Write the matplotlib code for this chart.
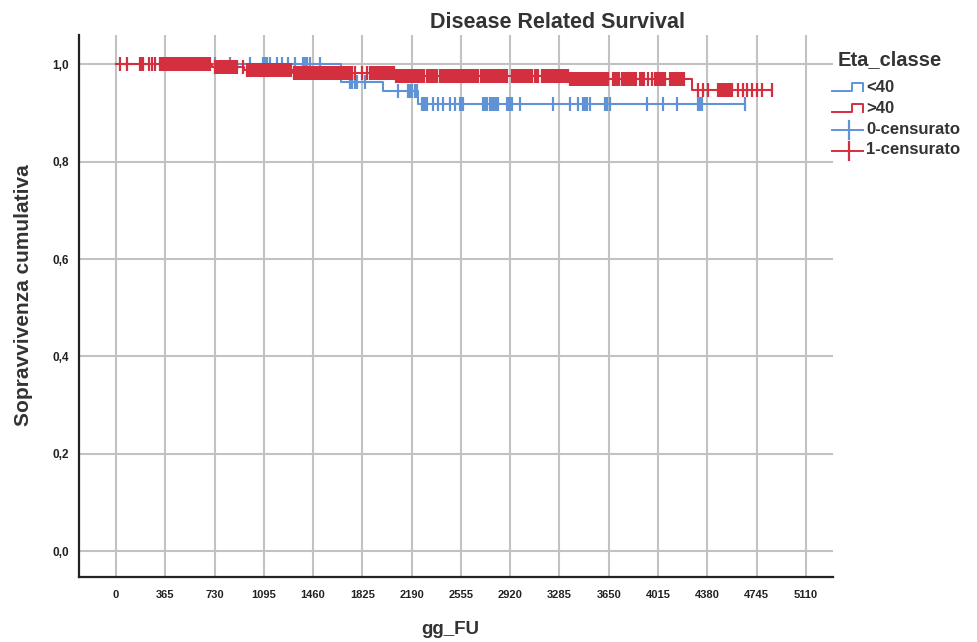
import numpy as np
import matplotlib.pyplot as plt
from matplotlib.lines import Line2D

# ---- data (days, cumulative survival) ----
blue_event_days = [1665, 1977, 2238]
blue_levels = [1.0, 0.964, 0.944, 0.918]
blue_end = 4658
blue_censored = [644, 674, 733, 844, 992, 1089, 1105, 1122, 1140, 1192, 1229, 1274,
                 1326, 1385, 1400, 1415, 1437, 1511,
                 1733, 1750, 1768, 1785, 1844,
                 2088, 2163, 2178, 2192, 2215, 2230,
                 2266, 2280, 2292, 2303, 2348, 2385, 2422, 2474, 2511, 2548, 2560, 2570,
                 2718, 2733, 2748, 2770, 2785, 2800, 2815, 2829, 2896, 2910, 2922, 2933,
                 2992, 3236, 3362, 3421, 3459, 3475, 3492, 3510, 3621, 3640, 3658,
                 3932, 4051, 4155, 4310, 4325, 4340, 4658]

red_event_days = [710, 945, 1310, 2075, 3350, 4265]
red_levels = [1.0, 0.994, 0.988, 0.981, 0.976, 0.970, 0.948]
red_end = 4858
red_censored = [30, 81, 178, 190, 200, 244, 267, 289,
                326, 341, 356, 371, 386, 401, 416, 431, 446, 461, 476, 491, 506, 521,
                533, 548, 563, 578, 593, 608, 623, 638, 653, 668, 683, 696,
                733, 748, 763, 778, 793, 808, 823, 838, 853, 868, 883, 898, 940,
                970, 985, 1000, 1015, 1030, 1045, 1060, 1075, 1090, 1105, 1120, 1135,
                1150, 1165, 1180, 1195, 1210, 1225, 1240, 1255, 1270, 1285, 1300, 1315,
                1330, 1345, 1360, 1375, 1390, 1405, 1420, 1435, 1450, 1465, 1480, 1495,
                1510, 1525, 1540, 1555, 1570, 1585, 1600, 1615, 1630, 1645, 1660, 1675,
                1690, 1705, 1720, 1735, 1750, 1770, 1822, 1860,
                1880, 1895, 1910, 1925, 1940, 1955, 1970, 1985, 2000, 2015, 2030, 2045,
                2060, 2075, 2090, 2105, 2120, 2135, 2150, 2165, 2180, 2195, 2210, 2225,
                2240, 2255, 2270, 2285, 2300, 2315, 2330, 2345, 2360, 2375,
                2400, 2415, 2430, 2445, 2460, 2475, 2490, 2505, 2520, 2535, 2550, 2565,
                2580, 2595, 2610, 2625, 2640, 2655, 2670, 2685, 2700, 2715, 2730, 2745,
                2760, 2775, 2790, 2805, 2820, 2835, 2850, 2865, 2880, 2895,
                2935, 2950, 2965, 2980, 2995, 3010, 3025, 3040, 3055, 3070, 3085, 3100,
                3115, 3125, 3155, 3170, 3185, 3200, 3215, 3230, 3245, 3260, 3275, 3290,
                3305, 3320, 3335, 3345, 3362, 3377, 3392, 3407, 3422, 3437, 3452, 3467,
                3482, 3497, 3512, 3527, 3542, 3557, 3572, 3587, 3602, 3617, 3632, 3644,
                3680, 3695, 3710, 3725, 3750, 3765, 3780, 3795, 3810, 3825, 3840, 3855,
                3880, 3895, 3910, 3940, 3970, 3990, 4005, 4020, 4035, 4050, 4065,
                4105, 4120, 4135, 4150, 4165, 4180, 4195, 4210,
                4310, 4347, 4384, 4458, 4473, 4488, 4503, 4518, 4533, 4548, 4563,
                4606, 4643, 4673, 4710, 4747, 4784, 4858]

x_ticks = list(range(0, 5111, 365))
y_ticks = [0.0, 0.2, 0.4, 0.6, 0.8, 1.0]
y_ticklabels = ['0,0', '0,2', '0,4', '0,6', '0,8', '1,0']
legend_labels = ['<40', '>40', '0-censurato', '1-censurato']

BLUE = '#5f93d6'
RED = '#d42f3e'
GRID = '#c2c2c2'

plt.rcParams['font.family'] = ['Liberation Sans', 'DejaVu Sans']
plt.rcParams['font.weight'] = 'bold'


def km_curve(ax, events, levels, end, censored, color):
    xs = [0] + list(events) + [end]
    ys = list(levels) + [levels[-1]]
    ax.step(xs, ys, where='post', color=color, lw=1.5, zorder=3)
    idx = np.searchsorted(events, censored, side='right')
    cy = np.array(levels)[idx]
    ax.plot(censored, cy, ls='none', marker='|', ms=10, mew=1.6, color=color, zorder=3)


fig = plt.figure(figsize=(9.77, 6.42), dpi=100)
ax = fig.add_axes([79 / 977, 1 - 577 / 642, (833 - 79) / 977, (577 - 35) / 642])

km_curve(ax, blue_event_days, blue_levels, blue_end, blue_censored, BLUE)
km_curve(ax, red_event_days, red_levels, red_end, red_censored, RED)

ax.set_xlim(-274, 5311)
ax.set_ylim(-0.053, 1.06)
ax.set_xticks(x_ticks)
ax.set_xticklabels([str(v) for v in x_ticks], fontsize=8, fontweight='bold')
ax.set_yticks(y_ticks)
ax.set_yticklabels(y_ticklabels, fontsize=8.5, fontweight='bold')
ax.tick_params(length=0, colors='#222222')
ax.tick_params(axis='x', pad=9)
ax.tick_params(axis='y', pad=7)
ax.grid(True, color=GRID, lw=1.5, zorder=0)
ax.set_axisbelow(True)
for s in ['top', 'right']:
    ax.spines[s].set_visible(False)
for s in ['left', 'bottom']:
    ax.spines[s].set_linewidth(1.6)
    ax.spines[s].set_color('#222222')

fig.text(557 / 977, 1 - 22 / 642, 'Disease Related Survival', ha='center', va='center',
         fontsize=15.5, fontweight='bold', color='#333333')
fig.text(24 / 977, 1 - 295 / 642, 'Sopravvivenza cumulativa', rotation=90, ha='center',
         va='center', fontsize=15, fontweight='bold', color='#333333')
fig.text(450 / 977, 1 - 630 / 642, 'gg_FU', ha='center', va='center',
         fontsize=13.5, fontweight='bold', color='#333333')

# legend drawn in pixel space
lg = fig.add_axes([0, 0, 1, 1], facecolor='none')
lg.set_xlim(0, 977)
lg.set_ylim(642, 0)
lg.axis('off')
lg.text(838, 60, 'Eta_classe', ha='left', va='center', fontsize=14.5,
        fontweight='bold', color='#333333')
for i, (lab, col) in enumerate(zip(legend_labels, [BLUE, RED, BLUE, RED])):
    yb = 91 + i * 20.5
    if i < 2:
        lg.add_line(Line2D([832, 852, 852, 863, 863], [yb, yb, yb - 8, yb - 8, yb],
                           color=col, lw=1.4))
    else:
        lg.add_line(Line2D([832, 863], [yb - 2, yb - 2], color=col, lw=1.4))
        lg.add_line(Line2D([849, 849], [yb - 11, yb + 7], color=col, lw=1.6))
    lg.text(866, yb - 3, lab, ha='left', va='center', fontsize=12,
            fontweight='bold', color='#333333')

fig.savefig('out.png', dpi=100)
